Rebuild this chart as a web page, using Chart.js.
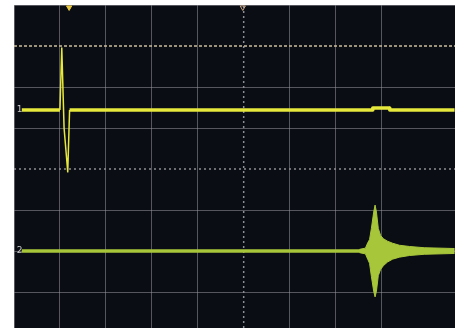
<!DOCTYPE html>
<html lang="en">
<head>
  <meta charset="UTF-8">
  <title>Scope capture</title>
  <style>
    * { margin: 0; padding: 0; box-sizing: border-box; }
    body { background: #fff; width: 466px; height: 328px; overflow: hidden; }
  </style>
  <script src="https://cdn.jsdelivr.net/npm/chart.js"></script>
</head>
<body>
  <canvas id="scope" width="466" height="328"></canvas>

  <script>
    // Screen is measured in divisions: x 0..9.6, y -3.88..4 (centre at x=5, y=0)
    const ch1X = [0.17, 1.00, 1.04, 1.09, 1.17, 1.21, 7.80, 7.81, 8.17, 8.18, 9.59];
    const ch1Y = [1.44, 1.44, 2.95, 1.00, -0.07, 1.44, 1.44, 1.49, 1.49, 1.44, 1.44];

    const ch2X = [0.17, 9.59];
    const ch2Y = [-2.0, -2.0];

    // ringing burst on channel 2 (upper / lower envelope)
    const burstX  = [7.52, 7.65, 7.70, 7.74, 7.78, 7.83, 7.86, 7.89, 7.93, 7.98, 8.04, 8.13, 8.24, 8.39, 8.61, 8.93, 9.59];
    const burstHi = [-1.96, -1.93, -1.80, -1.72, -1.45, -1.05, -0.88, -1.05, -1.45, -1.62, -1.70, -1.76, -1.81, -1.86, -1.89, -1.92, -1.94];
    const burstLo = [-2.04, -2.07, -2.20, -2.30, -2.62, -2.98, -3.12, -2.98, -2.60, -2.45, -2.36, -2.27, -2.20, -2.15, -2.11, -2.08, -2.06];

    const cursorLevel = 3;
    const centreX = 5;
    const centreY = 0;
    const triggerPos = 1.2;
    const channelLabels = ['1', '2'];
    const labelLevels = [1.44, -2.0];

    const CH1 = '#e6e83c';
    const CH2 = '#a8c63a';

    const pts = (xs, ys) => xs.map((x, i) => ({ x: x, y: ys[i] }));

    // dark screen + channel numbers
    const screenPlugin = {
      id: 'screen',
      beforeDraw(chart) {
        const a = chart.chartArea;
        const c = chart.ctx;
        c.save();
        c.fillStyle = '#0b0d15';
        c.fillRect(a.left, a.top, a.right - a.left, a.bottom - a.top);
        c.restore();
      },
      afterDatasetsDraw(chart) {
        const c = chart.ctx;
        const xs = chart.scales.x, ys = chart.scales.y;
        c.save();
        c.fillStyle = '#c8c8c8';
        c.font = '9px "DejaVu Sans", sans-serif';
        c.textBaseline = 'middle';
        channelLabels.forEach((t, i) => {
          c.fillText(t, xs.getPixelForValue(0.06), ys.getPixelForValue(labelLevels[i]));
        });
        c.restore();
      }
    };

    const gridColor = v => Number.isInteger(v) ? 'rgba(150,150,155,0.55)' : 'rgba(0,0,0,0)';
    // the fast edges of the pulse are drawn thinner than the flat trace
    const thin = ctx => {
      const dx = ctx.p1.parsed.x - ctx.p0.parsed.x;
      const dy = Math.abs(ctx.p1.parsed.y - ctx.p0.parsed.y);
      return (dx < 0.1 && dy > 0.3) ? 1.5 : 3.5;
    };

    new Chart(document.getElementById('scope'), {
      type: 'line',
      data: {
        datasets: [
          {
            data: pts(ch1X, ch1Y),
            borderColor: CH1,
            borderWidth: 3.5,
            borderJoinStyle: 'round',
            segment: { borderWidth: thin }
          },
          {
            data: pts(burstX, burstHi),
            borderColor: CH2,
            backgroundColor: CH2,
            borderWidth: 1,
            fill: '+1'
          },
          {
            data: pts(burstX, burstLo),
            borderColor: CH2,
            borderWidth: 1
          },
          {
            data: pts(ch2X, ch2Y),
            borderColor: CH2,
            borderWidth: 3.5
          },
          {
            // trigger position marker
            data: [{ x: triggerPos, y: 3.94 }],
            pointStyle: 'triangle',
            rotation: 180,
            pointRadius: 3,
            pointBackgroundColor: '#e8c840',
            pointBorderColor: '#e8c840',
            clip: false,
            showLine: false
          },
          {
            data: [{ x: centreX - 0.02, y: 3.94 }],
            pointStyle: 'triangle',
            rotation: 180,
            pointRadius: 3,
            pointBackgroundColor: 'rgba(0,0,0,0)',
            pointBorderColor: '#c8a888',
            pointBorderWidth: 1,
            clip: false,
            showLine: false
          },
          {
            // cursor line
            data: [{ x: 0, y: cursorLevel }, { x: 9.6, y: cursorLevel }],
            borderColor: '#cdbf9f',
            borderWidth: 1.5,
            borderDash: [3, 2]
          },
          {
            data: [{ x: 0, y: centreY }, { x: 9.6, y: centreY }],
            borderColor: '#8e8e94',
            borderWidth: 1.5,
            borderDash: [2, 3]
          },
          {
            data: [{ x: centreX, y: -3.878 }, { x: centreX, y: 4 }],
            borderColor: '#8e8e94',
            borderWidth: 1.5,
            borderDash: [2, 3]
          }
        ]
      },
      options: {
        responsive: false,
        animation: false,
        layout: { autoPadding: false, padding: { left: 14, top: 5, right: 11, bottom: 0 } },
        plugins: { legend: { display: false }, tooltip: { enabled: false } },
        elements: { point: { radius: 0 }, line: { tension: 0 } },
        scales: {
          x: {
            type: 'linear', min: 0, max: 9.6,
            afterFit: s => { s.height = 0; },
            ticks: { display: false, stepSize: 1 },
            grid: { drawTicks: false, lineWidth: 1, color: c => c.tick && c.tick.value === centreX ? 'rgba(0,0,0,0)' : gridColor(c.tick ? c.tick.value : 0.5) },
            border: { display: false }
          },
          y: {
            type: 'linear', min: -3.878, max: 4,
            afterFit: s => { s.width = 0; },
            ticks: { display: false, stepSize: 1 },
            grid: { drawTicks: false, lineWidth: 1, color: c => c.tick && (c.tick.value === centreY || c.tick.value === cursorLevel) ? 'rgba(0,0,0,0)' : gridColor(c.tick ? c.tick.value : 0.5) },
            border: { display: false }
          }
        }
      },
      plugins: [screenPlugin]
    });
  </script>
</body>
</html>
